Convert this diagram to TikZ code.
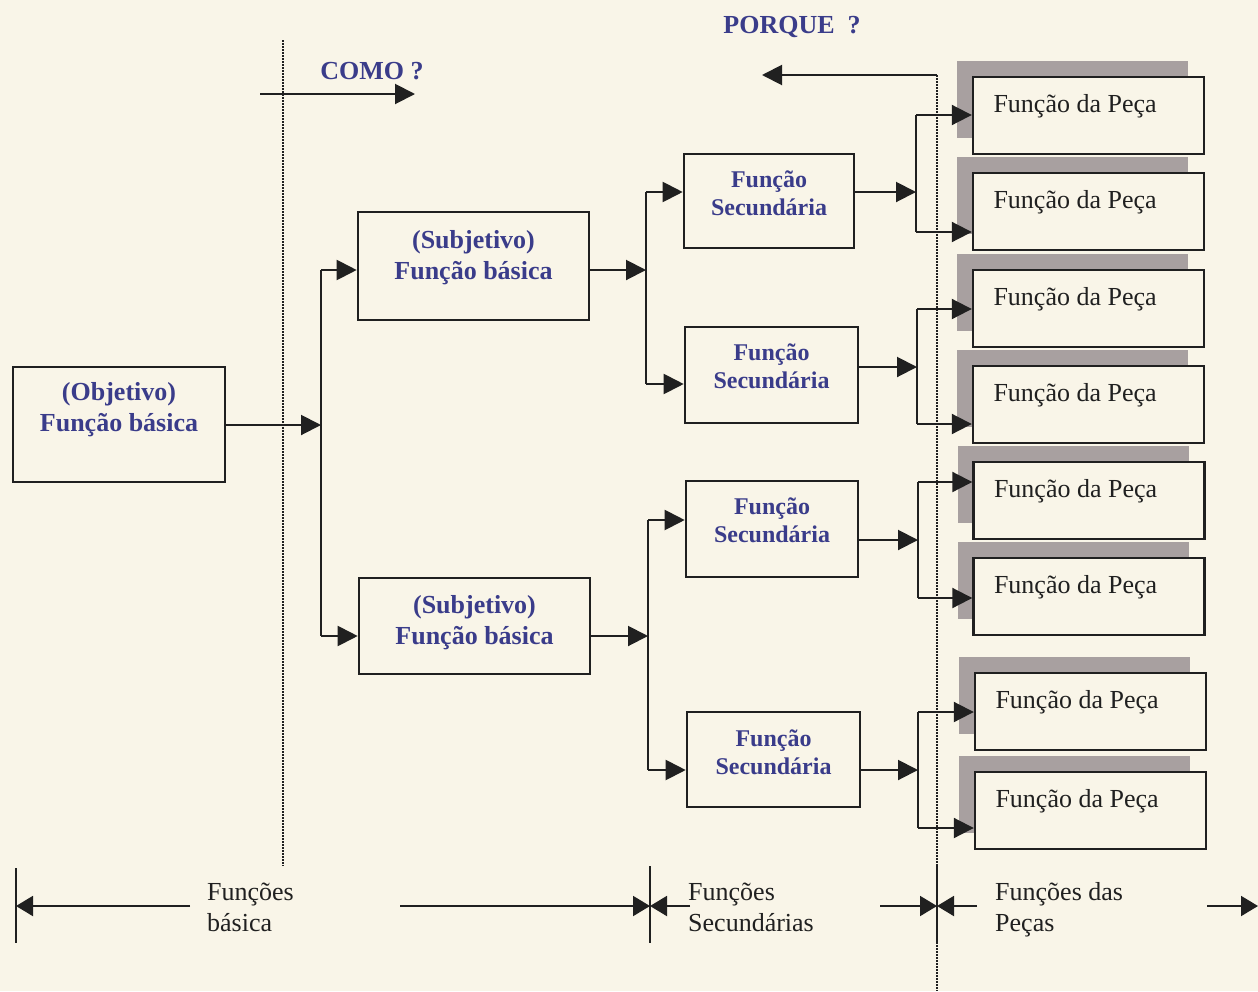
\documentclass[tikz,border=0pt]{standalone}
\usepackage{fontspec}
\setmainfont{Liberation Serif}
\usetikzlibrary{arrows.meta,shadows}

\definecolor{paper}{RGB}{249,245,232}
\definecolor{ink}{RGB}{32,32,32}
\definecolor{navy}{RGB}{58,60,138}
\definecolor{shade}{RGB}{168,160,160}

% raise the text inside a box without changing the box size
\newcommand\liftby[2]{\raisebox{#1}[\height][\depth]{#2}}
\newcommand\twolines[2]{\begin{tabular}{@{}c@{}}#1\\#2\end{tabular}}
\newcommand\twoleft[2]{\begin{tabular}[t]{@{}l@{}}#1\\#2\end{tabular}}

\begin{document}
\begin{tikzpicture}[x=1pt,y=-1pt,
  basebox/.style={draw=ink, line width=2.6pt, fill=paper, inner sep=0pt,
    text=navy, font=\fontsize{26}{31}\selectfont\bfseries},
  secbox/.style={basebox, font=\fontsize{24}{28}\selectfont\bfseries},
  partbox/.style={draw=ink, line width=2.4pt, fill=paper, inner sep=0pt,
    minimum width=231pt, minimum height=77pt, text=ink,
    text height=18pt, text depth=24pt, font=\fontsize{26}{31}\selectfont,
    drop shadow={shadow xshift=-16pt, shadow yshift=16pt, fill=shade,
      draw=none, opacity=1}},
  question/.style={text=navy, font=\fontsize{26}{31}\selectfont\bfseries, inner sep=0pt},
  caption/.style={text=ink, font=\fontsize{26}{31}\selectfont, inner sep=0pt, anchor=base west},
  wire/.style={draw=ink, line width=2pt},
  flow/.style={wire, -{Triangle[length=20pt,width=20pt]}},
  span/.style={wire, -{Triangle[length=17pt,width=20pt]}},
  guide/.style={draw=ink, line width=1.6pt, dash pattern=on 1.6pt off 1.4pt},
]
% page
\fill[paper] (0,0) rectangle (1258,991);
\useasboundingbox (0,0) rectangle (1258,991);

% dotted separators
\draw[guide] (283,40) -- (283,866);
\draw[guide] (937,75) -- (937,991);

% boxes
\node[basebox, minimum width=212pt, minimum height=115pt] (obj) at (119,424.5)
  {\liftby{15pt}{\twolines{(Objetivo)}{Função básica}}};
\node[basebox, minimum width=231pt, minimum height=108pt] (sub1) at (473.5,266)
  {\liftby{8pt}{\twolines{(Subjetivo)}{Função básica}}};
\node[basebox, minimum width=231pt, minimum height=96pt] (sub2) at (474.5,626)
  {\liftby{3pt}{\twolines{(Subjetivo)}{Função básica}}};

\node[secbox, minimum width=170pt, minimum height=94pt] (sec1) at (769,201)
  {\liftby{5pt}{\twolines{Função}{Secundária}}};
\node[secbox, minimum width=173pt, minimum height=96pt] (sec2) at (771.5,375)
  {\liftby{6pt}{\twolines{Função}{Secundária}}};
\node[secbox, minimum width=172pt, minimum height=96pt] (sec3) at (772,529)
  {\liftby{6pt}{\twolines{Função}{Secundária}}};
\node[secbox, minimum width=173pt, minimum height=95pt] (sec4) at (773.5,759.5)
  {\liftby{5pt}{\twolines{Função}{Secundária}}};

\node[partbox] (p1) at (1088.5,115.5) {\makebox[190pt][l]{Função da Peça}};
\node[partbox] (p2) at (1088.5,211.5) {\makebox[190pt][l]{Função da Peça}};
\node[partbox] (p3) at (1088.5,308.5) {\makebox[190pt][l]{Função da Peça}};
\node[partbox] (p4) at (1088.5,404.5) {\makebox[190pt][l]{Função da Peça}};
\node[partbox] (p5) at (1089,500.5) {\makebox[190pt][l]{Função da Peça}};
\node[partbox] (p6) at (1089,596.5) {\makebox[190pt][l]{Função da Peça}};
\node[partbox] (p7) at (1090.5,711.5) {\makebox[190pt][l]{Função da Peça}};
\node[partbox] (p8) at (1090.5,810.5) {\makebox[190pt][l]{Função da Peça}};

% objective -> subjective
\coordinate (j0) at (321,425);
\coordinate (j0t) at (321,270);
\coordinate (j0b) at (321,636);
\draw[flow] (obj.east |- j0) -- (j0);
\draw[wire] (j0t) -- (j0b);
\draw[flow] (j0t) -- (j0t -| sub1.west);
\draw[flow] (j0b) -- (j0b -| sub2.west);

% subjective -> secondary
\coordinate (ja) at (646,270);
\coordinate (jat) at (646,192);
\coordinate (jab) at (646,384);
\draw[flow] (sub1.east |- ja) -- (ja);
\draw[wire] (jat) -- (jab);
\draw[flow] (jat) -- (jat -| sec1.west);
\draw[flow] (jab) -- (jab -| sec2.west);

\coordinate (jb) at (648,636);
\coordinate (jbt) at (648,520);
\coordinate (jbb) at (648,770);
\draw[flow] (sub2.east |- jb) -- (jb);
\draw[wire] (jbt) -- (jbb);
\draw[flow] (jbt) -- (jbt -| sec3.west);
\draw[flow] (jbb) -- (jbb -| sec4.west);

% secondary -> part functions
\coordinate (k1) at (916,192);
\coordinate (k1t) at (916,115);
\coordinate (k1b) at (916,232);
\draw[flow] (sec1.east |- k1) -- (k1);
\draw[wire] (k1t) -- (k1b);
\draw[flow] (k1t) -- (k1t -| p1.west);
\draw[flow] (k1b) -- (k1b -| p2.west);

\coordinate (k2) at (917,367);
\coordinate (k2t) at (917,309);
\coordinate (k2b) at (917,424);
\draw[flow] (sec2.east |- k2) -- (k2);
\draw[wire] (k2t) -- (k2b);
\draw[flow] (k2t) -- (k2t -| p3.west);
\draw[flow] (k2b) -- (k2b -| p4.west);

\coordinate (k3) at (918,540);
\coordinate (k3t) at (918,482);
\coordinate (k3b) at (918,598);
\draw[flow] (sec3.east |- k3) -- (k3);
\draw[wire] (k3t) -- (k3b);
\draw[flow] (k3t) -- (k3t -| p5.west);
\draw[flow] (k3b) -- (k3b -| p6.west);

\coordinate (k4) at (918,770);
\coordinate (k4t) at (918,712);
\coordinate (k4b) at (918,828);
\draw[flow] (sec4.east |- k4) -- (k4);
\draw[wire] (k4t) -- (k4b);
\draw[flow] (k4t) -- (k4t -| p7.west);
\draw[flow] (k4b) -- (k4b -| p8.west);

% how / why
\node[question] (how) at (372,71) {COMO ?};
\coordinate (howA) at (260,94);
\coordinate (howB) at (415,94);
\draw[flow] (howA) -- (howB);

\node[question] (why) at (792,27) {PORQUE\ \ ?};
\coordinate (whyA) at (937,75);
\coordinate (whyB) at (762,75);
\draw[flow] (whyA) -- (whyB);

% bottom scale
\draw[wire] (16,868) -- (16,943);
\draw[wire] (650,866) -- (650,943);
\draw[wire] (937,866) -- (937,943);

\coordinate (b1) at (190,906);  \coordinate (b1e) at (16,906);
\coordinate (b2) at (400,906);  \coordinate (b2e) at (650,906);
\coordinate (b3) at (690,906);
\coordinate (b4) at (880,906);  \coordinate (b4e) at (937,906);
\coordinate (b5) at (977,906);
\coordinate (b6) at (1207,906); \coordinate (b6e) at (1258,906);
\draw[span] (b1) -- (b1e);
\draw[span] (b2) -- (b2e);
\draw[span] (b3) -- (b2e);
\draw[span] (b4) -- (b4e);
\draw[span] (b5) -- (b4e);
\draw[span] (b6) -- (b6e);

\node[caption] (cb) at (207,900) {\twoleft{Funções}{básica}};
\node[caption] (cs) at (688,900) {\twoleft{Funções}{Secundárias}};
\node[caption] (cp) at (995,900) {\twoleft{Funções das}{Peças}};
\end{tikzpicture}
\end{document}
